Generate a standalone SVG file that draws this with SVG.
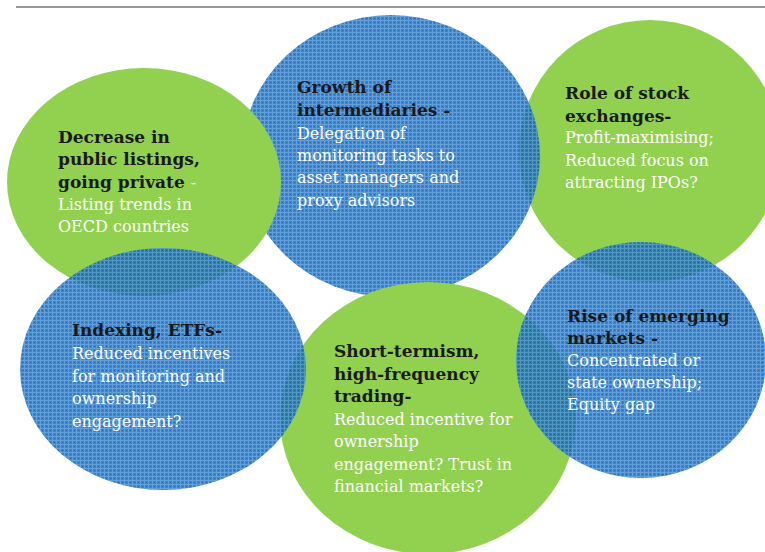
<svg xmlns="http://www.w3.org/2000/svg" width="765" height="552" viewBox="0 0 765 552">
  <defs>
    <!-- fine dotted grid used for the blue discs -->
    <pattern id="dots" width="4" height="4" patternUnits="userSpaceOnUse">
      <rect width="4" height="4" fill="#1571C3"/>
      <rect x="0" y="0" width="4" height="1" fill="#468FD6"/>
      <rect x="0" y="0" width="1" height="4" fill="#468FD6"/>
      <rect x="2" y="2" width="1" height="1" fill="#004B9E"/>
    </pattern>
  </defs>
  <style>
    .green { fill: #92D050; }
    .blue { fill: url(#dots); opacity: 0.85; }
    .head { font-family: "DejaVu Serif", "Liberation Serif", serif; font-weight: bold; font-size: 17px; fill: #1A1A1A; }
    .body { font-family: "DejaVu Serif", "Liberation Serif", serif; font-size: 16px; fill: #FFFFFF; }
    .rule { stroke: #777777; stroke-width: 1.5; fill: none; }
  </style>

  <rect width="765" height="552" fill="#FFFFFF"/>
  <line class="rule" x1="16" y1="7" x2="765" y2="7"/>

  <g id="role-of-stock-exchanges">
    <ellipse class="green" cx="650" cy="151" rx="131" ry="131"/>
  </g>
  <g id="growth-of-intermediaries">
    <ellipse class="blue" cx="391" cy="156" rx="149" ry="141"/>
  </g>
  <g id="decrease-in-public-listings">
    <ellipse class="green" cx="144" cy="182" rx="137" ry="114"/>
  </g>
  <g id="short-termism">
    <ellipse class="green" cx="428" cy="418" rx="148" ry="136"/>
  </g>
  <g id="indexing-etfs">
    <ellipse class="blue" cx="163" cy="369" rx="143" ry="121"/>
  </g>
  <g id="rise-of-emerging-markets">
    <ellipse class="blue" cx="641" cy="360" rx="125" ry="118"/>
  </g>

  <!-- labels -->
  <g id="labels">
    <text class="head" x="58" y="143">Decrease in</text>
    <text class="head" x="58" y="165">public listings,</text>
    <text x="58" y="188"><tspan class="head">going private </tspan><tspan class="body">-</tspan></text>
    <text class="body" x="58" y="210">Listing trends in</text>
    <text class="body" x="58" y="232">OECD countries</text>

    <text class="head" x="297" y="93">Growth of</text>
    <text class="head" x="297" y="116">intermediaries -</text>
    <text class="body" x="297" y="139">Delegation of</text>
    <text class="body" x="297" y="161">monitoring tasks to</text>
    <text class="body" x="297" y="183">asset managers and</text>
    <text class="body" x="297" y="206">proxy advisors</text>

    <text class="head" x="565" y="99">Role of stock</text>
    <text class="head" x="565" y="122">exchanges-</text>
    <text class="body" x="565" y="143">Profit-maximising;</text>
    <text class="body" x="565" y="166">Reduced focus on</text>
    <text class="body" x="565" y="188">attracting IPOs?</text>

    <text class="head" x="72" y="336">Indexing, ETFs-</text>
    <text class="body" x="72" y="359">Reduced incentives</text>
    <text class="body" x="72" y="382">for monitoring and</text>
    <text class="body" x="72" y="404">ownership</text>
    <text class="body" x="72" y="427">engagement?</text>

    <text class="head" x="334" y="357">Short-termism,</text>
    <text class="head" x="334" y="380">high-frequency</text>
    <text class="head" x="334" y="402">trading-</text>
    <text class="body" x="334" y="425">Reduced incentive for</text>
    <text class="body" x="334" y="447">ownership</text>
    <text class="body" x="334" y="470">engagement? Trust in</text>
    <text class="body" x="334" y="492">financial markets?</text>

    <text class="head" x="567" y="322">Rise of emerging</text>
    <text class="head" x="567" y="344">markets -</text>
    <text class="body" x="567" y="366">Concentrated or</text>
    <text class="body" x="567" y="388">state ownership;</text>
    <text class="body" x="567" y="410">Equity gap</text>
  </g>
</svg>
